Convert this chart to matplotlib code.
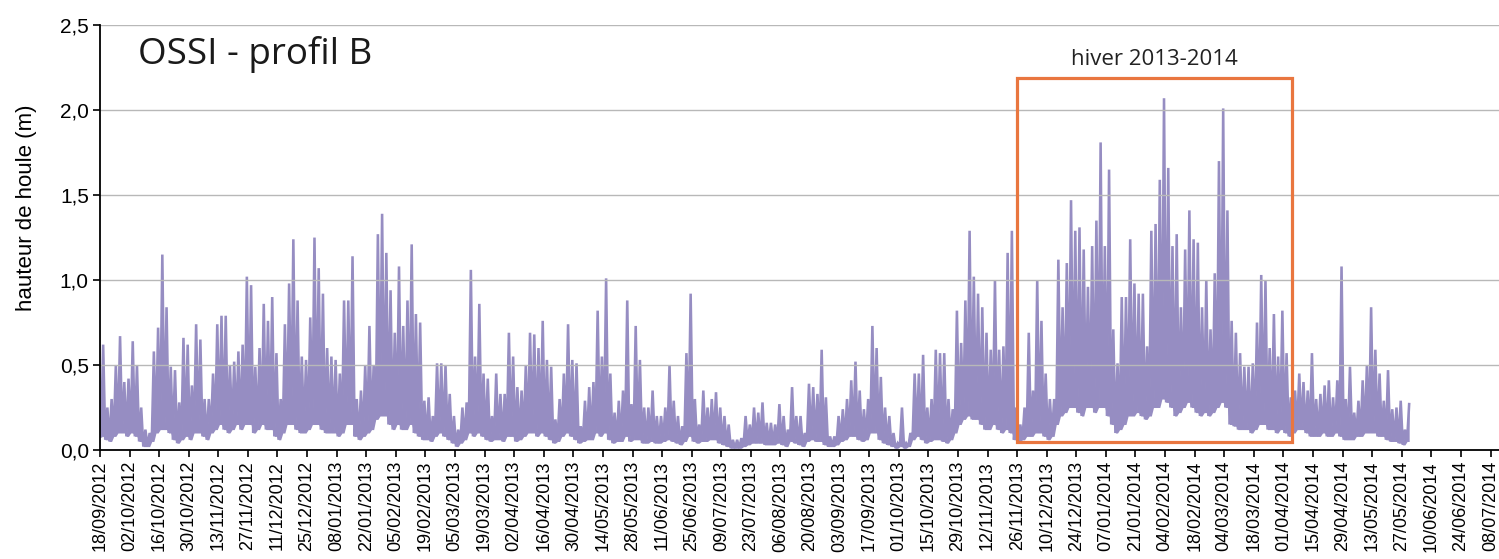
import matplotlib
matplotlib.use("Agg")
import matplotlib.pyplot as plt
import matplotlib.dates as mdates
from matplotlib.patches import Rectangle
from matplotlib.ticker import FuncFormatter, FixedLocator
import numpy as np
import pandas as pd

# ---------------- data (2-day bins starting 18/09/2012) ----------------
start_date = "2012-09-18"
bin_days = 2

wave_high = [
    0.62, 0.25, 0.30, 0.50, 0.67, 0.40, 0.42, 0.64, 0.50, 0.25,
    0.12, 0.10, 0.58, 0.72, 1.15, 0.84, 0.49, 0.47, 0.28, 0.66,
    0.62, 0.38, 0.74, 0.65, 0.30, 0.30, 0.45, 0.74, 0.79, 0.79,
    0.50, 0.52, 0.58, 0.62, 1.02, 0.97, 0.49, 0.60, 0.86, 0.76,
    0.90, 0.57, 0.30, 0.74, 0.98, 1.24, 0.88, 0.55, 0.53, 0.78,
    1.25, 1.07, 0.92, 0.60, 0.55, 0.53, 0.45, 0.88, 0.88, 1.14,
    0.30, 0.35, 0.50, 0.73, 0.50, 1.27, 1.39, 1.16, 0.94, 0.69,
    1.08, 0.73, 0.88, 1.21, 0.80, 0.75, 0.29, 0.31, 0.20, 0.51,
    0.51, 0.50, 0.33, 0.20, 0.12, 0.25, 0.28, 1.06, 0.55, 0.86,
    0.45, 0.42, 0.20, 0.45, 0.33, 0.33, 0.69, 0.55, 0.37, 0.35,
    0.50, 0.69, 0.68, 0.60, 0.76, 0.53, 0.49, 0.18, 0.30, 0.45,
    0.74, 0.53, 0.51, 0.14, 0.29, 0.37, 0.40, 0.82, 0.55, 1.01,
    0.45, 0.22, 0.29, 0.35, 0.88, 0.27, 0.73, 0.53, 0.25, 0.25,
    0.35, 0.20, 0.20, 0.25, 0.50, 0.29, 0.20, 0.14, 0.57, 0.92,
    0.30, 0.15, 0.35, 0.25, 0.30, 0.34, 0.25, 0.20, 0.15, 0.06,
    0.06, 0.07, 0.20, 0.15, 0.25, 0.22, 0.28, 0.16, 0.16, 0.15,
    0.27, 0.20, 0.12, 0.37, 0.20, 0.20, 0.10, 0.39, 0.37, 0.33,
    0.59, 0.31, 0.08, 0.08, 0.20, 0.24, 0.30, 0.41, 0.52, 0.35,
    0.24, 0.30, 0.73, 0.60, 0.43, 0.25, 0.20, 0.10, 0.04, 0.25,
    0.04, 0.10, 0.45, 0.45, 0.56, 0.25, 0.30, 0.59, 0.57, 0.57,
    0.30, 0.24, 0.82, 0.63, 0.88, 1.29, 1.02, 0.92, 0.84, 0.69,
    0.59, 1.00, 0.59, 0.61, 1.16, 1.29, 0.25, 0.15, 0.25, 0.69,
    0.35, 1.00, 0.76, 0.45, 0.30, 0.30, 1.12, 0.84, 1.10, 1.47,
    1.29, 1.31, 1.18, 0.96, 1.20, 1.35, 1.81, 1.20, 1.65, 0.71,
    0.51, 0.90, 0.90, 1.24, 0.98, 0.92, 0.92, 0.61, 1.29, 1.33,
    1.59, 2.07, 1.66, 1.20, 1.27, 0.84, 1.18, 1.41, 1.24, 1.22,
    0.84, 1.00, 0.71, 1.04, 1.70, 2.01, 1.41, 0.76, 0.69, 0.57,
    0.49, 0.49, 0.51, 0.75, 1.03, 1.00, 0.60, 0.80, 0.55, 0.82,
    0.57, 0.31, 0.35, 0.45, 0.40, 0.35, 0.57, 0.30, 0.33, 0.38,
    0.41, 0.31, 0.41, 1.08, 0.30, 0.49, 0.22, 0.29, 0.41, 0.50,
    0.84, 0.59, 0.45, 0.29, 0.47, 0.24, 0.25, 0.29, 0.12, 0.27,
]

wave_low = [
    0.08, 0.06, 0.05, 0.08, 0.10, 0.10, 0.08, 0.10, 0.08, 0.05,
    0.02, 0.02, 0.05, 0.10, 0.12, 0.12, 0.10, 0.06, 0.04, 0.06,
    0.08, 0.06, 0.10, 0.10, 0.08, 0.06, 0.10, 0.12, 0.15, 0.12,
    0.10, 0.12, 0.15, 0.12, 0.15, 0.15, 0.10, 0.12, 0.15, 0.12,
    0.12, 0.08, 0.06, 0.10, 0.15, 0.15, 0.12, 0.10, 0.10, 0.12,
    0.15, 0.15, 0.12, 0.10, 0.10, 0.10, 0.08, 0.10, 0.15, 0.15,
    0.08, 0.06, 0.08, 0.10, 0.12, 0.18, 0.20, 0.20, 0.15, 0.12,
    0.15, 0.12, 0.12, 0.15, 0.10, 0.08, 0.06, 0.06, 0.05, 0.08,
    0.10, 0.08, 0.06, 0.04, 0.02, 0.04, 0.06, 0.10, 0.08, 0.10,
    0.08, 0.06, 0.05, 0.06, 0.06, 0.05, 0.08, 0.08, 0.05, 0.06,
    0.08, 0.10, 0.10, 0.08, 0.10, 0.08, 0.06, 0.04, 0.05, 0.08,
    0.10, 0.08, 0.06, 0.04, 0.05, 0.06, 0.06, 0.10, 0.08, 0.10,
    0.06, 0.04, 0.05, 0.05, 0.08, 0.05, 0.06, 0.06, 0.04, 0.04,
    0.05, 0.04, 0.04, 0.05, 0.06, 0.05, 0.04, 0.03, 0.05, 0.08,
    0.05, 0.04, 0.05, 0.05, 0.06, 0.06, 0.04, 0.03, 0.02, 0.01,
    0.01, 0.01, 0.02, 0.03, 0.04, 0.04, 0.04, 0.03, 0.03, 0.03,
    0.04, 0.03, 0.02, 0.05, 0.04, 0.03, 0.02, 0.05, 0.06, 0.05,
    0.05, 0.03, 0.02, 0.02, 0.03, 0.05, 0.06, 0.08, 0.08, 0.06,
    0.05, 0.06, 0.10, 0.10, 0.06, 0.04, 0.03, 0.02, 0.01, 0.02,
    0.01, 0.02, 0.06, 0.08, 0.06, 0.04, 0.05, 0.06, 0.06, 0.05,
    0.04, 0.06, 0.10, 0.15, 0.18, 0.20, 0.18, 0.18, 0.15, 0.12,
    0.12, 0.15, 0.12, 0.10, 0.12, 0.10, 0.06, 0.05, 0.06, 0.08,
    0.08, 0.10, 0.10, 0.08, 0.06, 0.08, 0.15, 0.20, 0.22, 0.25,
    0.25, 0.22, 0.20, 0.25, 0.25, 0.22, 0.25, 0.25, 0.20, 0.15,
    0.10, 0.12, 0.15, 0.20, 0.20, 0.22, 0.20, 0.18, 0.20, 0.25,
    0.25, 0.30, 0.28, 0.25, 0.20, 0.22, 0.25, 0.28, 0.25, 0.22,
    0.20, 0.22, 0.20, 0.22, 0.25, 0.28, 0.25, 0.15, 0.14, 0.12,
    0.12, 0.12, 0.10, 0.12, 0.15, 0.15, 0.12, 0.12, 0.10, 0.12,
    0.10, 0.08, 0.10, 0.12, 0.12, 0.10, 0.08, 0.08, 0.08, 0.10,
    0.08, 0.08, 0.10, 0.08, 0.06, 0.06, 0.06, 0.08, 0.08, 0.10,
    0.10, 0.10, 0.08, 0.08, 0.06, 0.05, 0.05, 0.04, 0.03, 0.05,
]

tick_start = "2012-09-18"
tick_end = "2014-07-08"
tick_step_days = 14

winter_label = "hiver 2013-2014"
winter_start = "2013-11-26"
winter_end = "2014-04-05"
winter_vmin, winter_vmax = 0.047, 2.19

title_text = "OSSI - profil B"
ylabel_text = "hauteur de houle (m)"

# ---------------- figure ----------------
plt.rcParams['font.family'] = ['Liberation Sans', 'DejaVu Sans']
fig = plt.figure(figsize=(14.99, 5.59), dpi=100)
ax = fig.add_axes([0.0667, 0.195, 0.933, 0.760])

t0 = pd.Timestamp(start_date)
n = len(wave_high)
bin_starts = pd.date_range(t0, periods=n, freq=f"{bin_days}D")
x_low = mdates.date2num(bin_starts + pd.Timedelta(hours=12))
x_high = mdates.date2num(bin_starts + pd.Timedelta(hours=36))

xs = np.empty(2 * n)
ys = np.empty(2 * n)
xs[0::2] = x_low
xs[1::2] = x_high
ys[0::2] = wave_low
ys[1::2] = wave_high

purple = '#968dc2'
ax.fill_between(xs, ys, np.repeat(wave_low, 2), color=purple, lw=0, zorder=1.8)
ax.plot(xs, ys, color=purple, lw=1.85, zorder=2, solid_joinstyle='miter')

# winter box
ws = mdates.date2num(pd.Timestamp(winter_start))
we = mdates.date2num(pd.Timestamp(winter_end))
ax.add_patch(Rectangle((ws, winter_vmin), we - ws, winter_vmax - winter_vmin,
                       fill=False, edgecolor='#e9763f', lw=2.3, zorder=4))
ax.text((ws + we) / 2, 2.30, winter_label, ha='center', va='center',
        fontsize=16, family=['Open Sans', 'DejaVu Sans'], color='#222222')

ax.text(0.027, 0.93, title_text, transform=ax.transAxes, ha='left', va='center',
        fontsize=26.5, family=['Open Sans', 'DejaVu Sans'], color='#1a1a1a')

# axes
x_left = mdates.date2num(t0)
ax.set_xlim(x_left, x_left + 661.8)
ax.set_ylim(0, 2.5)

ticks = pd.date_range(tick_start, tick_end, freq=f"{tick_step_days}D")
ax.xaxis.set_major_locator(FixedLocator(mdates.date2num(ticks)))
ax.xaxis.set_major_formatter(mdates.DateFormatter('%d/%m/%Y'))
plt.setp(ax.get_xticklabels(), rotation=90, fontsize=13)

ax.set_yticks([0, 0.5, 1.0, 1.5, 2.0, 2.5])
ax.yaxis.set_major_formatter(FuncFormatter(lambda v, p: f"{v:.1f}".replace('.', ',')))
plt.setp(ax.get_yticklabels(), fontsize=15)

ax.tick_params(axis='x', direction='out', length=5, width=1.2, pad=3, color='black')
ax.tick_params(axis='y', direction='out', length=5, width=1.2, pad=3, color='black')

ax.grid(axis='y', color='#b8b8b8', lw=1.0)
ax.set_axisbelow(False)
for sp in ['top', 'right']:
    ax.spines[sp].set_visible(False)
ax.spines['left'].set_linewidth(1.3)
ax.spines['bottom'].set_linewidth(1.3)
ax.spines['left'].set_zorder(5)
ax.spines['bottom'].set_zorder(5)

ax.set_ylabel(ylabel_text, fontsize=16)
ax.yaxis.set_label_coords(-0.045, 0.57)

fig.savefig("out.png", dpi=100, facecolor='white')
